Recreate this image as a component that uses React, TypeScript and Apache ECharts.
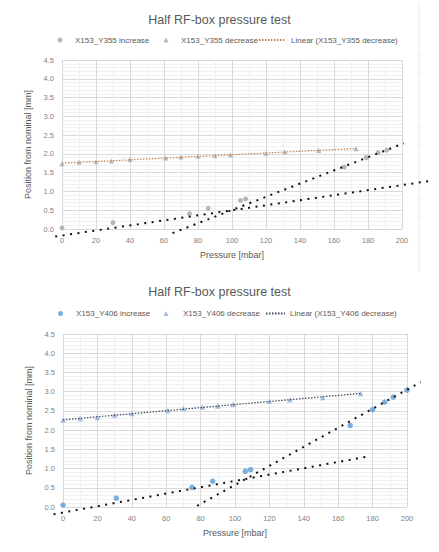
import React, { useEffect, useRef } from "react";
import * as echarts from "echarts";

// ---- Upper chart: X153_Y355 ----
const y355IncreasePressure = [0, 30, 75, 86, 105, 108, 166, 179, 186, 191];
const y355IncreaseValue = [0.03, 0.17, 0.41, 0.55, 0.76, 0.8, 1.65, 1.9, 2.03, 2.1];
const y355DecreasePressure = [0, 10, 20, 29, 40, 61, 70, 80, 90, 99, 120, 131, 151, 173];
const y355DecreaseValue = [1.74, 1.78, 1.79, 1.81, 1.85, 1.89, 1.92, 1.94, 1.95, 1.98, 2.02, 2.05, 2.09, 2.14];
// hand-drawn dotted guide lines (pressure, position), they run past the plot edges
const y355GuideShallow = [[-4, -0.2], [218, 1.29]];
const y355GuideSteep = [[65, -0.11], [201, 2.28]];

// ---- Lower chart: X153_Y406 ----
const y406IncreasePressure = [0, 31, 75, 87, 106, 109, 167, 180, 187, 192, 200];
const y406IncreaseValue = [0.05, 0.23, 0.51, 0.67, 0.93, 0.97, 2.12, 2.53, 2.73, 2.86, 3.04];
const y406DecreasePressure = [0, 10, 20, 30, 40, 61, 70, 81, 90, 99, 120, 132, 151, 173];
const y406DecreaseValue = [2.26, 2.3, 2.33, 2.39, 2.43, 2.51, 2.56, 2.6, 2.63, 2.67, 2.75, 2.79, 2.85, 2.95];
const y406GuideShallow = [[-5.5, -0.19], [178, 1.32]];
const y406GuideSteep = [[78, 0.03], [208, 3.25]];

const titleText = "Half RF-box pressure test";
const xName = "Pressure [mbar]";
const yName = "Position from nominal [mm]";

const FONT = "'Liberation Sans', Arial, sans-serif";

function zip(xs: number[], ys: number[]) {
  return xs.map((x, i) => [x, ys[i]]);
}

// least-squares trendline across the span of the measured pressures
function linearTrend(xs: number[], ys: number[]) {
  const n = xs.length;
  const mx = xs.reduce((a, b) => a + b, 0) / n;
  const my = ys.reduce((a, b) => a + b, 0) / n;
  let sxy = 0;
  let sxx = 0;
  for (let i = 0; i < n; i++) {
    sxy += (xs[i] - mx) * (ys[i] - my);
    sxx += (xs[i] - mx) * (xs[i] - mx);
  }
  const slope = sxy / sxx;
  const icpt = my - slope * mx;
  const x0 = Math.min(...xs);
  const x1 = Math.max(...xs);
  return [[x0, icpt + slope * x0], [x1, icpt + slope * x1]];
}

function xAxisFor(gridIndex: number) {
  return {
    type: "value",
    gridIndex,
    min: 0,
    max: 200,
    interval: 20,
    name: xName,
    nameLocation: "middle",
    nameGap: 21,
    nameTextStyle: { fontFamily: FONT, fontSize: 9, color: "#595959" },
    axisLine: { show: false },
    axisTick: { show: false },
    axisLabel: { fontFamily: FONT, fontSize: 7.5, color: "#7f7f7f", margin: 7 },
    splitLine: { show: true, lineStyle: { color: "#d9d9d9", width: 1 } },
    minorTick: { show: false, splitNumber: 2 },
    minorSplitLine: { show: true, lineStyle: { color: "#f0f0f0", width: 1 } },
  };
}

function yAxisFor(gridIndex: number) {
  return {
    type: "value",
    gridIndex,
    min: 0,
    max: 4.5,
    interval: 0.5,
    name: yName,
    nameLocation: "middle",
    nameGap: 17,
    nameTextStyle: { fontFamily: FONT, fontSize: 9, color: "#595959" },
    axisLine: { show: false },
    axisTick: { show: false },
    axisLabel: {
      fontFamily: FONT,
      fontSize: 7.5,
      color: "#7f7f7f",
      margin: 8,
      formatter: (v: number) => v.toFixed(1),
    },
    splitLine: { show: true, lineStyle: { color: "#d9d9d9", width: 1 } },
    minorTick: { show: false, splitNumber: 5 },
    minorSplitLine: { show: true, lineStyle: { color: "#f0f0f0", width: 1 } },
  };
}

// one legend per entry so each icon can have its own width
function legendItem(
  name: string,
  left: number,
  top: number,
  kind: "circle" | "triangle" | "line",
  padLeft: number,
  lineWidth = 27
) {
  const isLine = kind === "line";
  return {
    left,
    top,
    padding: 0,
    itemWidth: isLine ? lineWidth : 5,
    itemHeight: 5,
    data: [isLine ? { name, itemStyle: { opacity: 0 } } : { name, icon: kind }],
    textStyle: { fontFamily: FONT, fontSize: 8, color: "#595959", padding: [0, 0, 0, padLeft] },
  };
}

export default function App() {
  const ref = useRef<HTMLDivElement>(null);

  useEffect(() => {
    if (!ref.current) return;
    const chart = echarts.init(ref.current, undefined, { renderer: "svg" });

    const names355 = ["X153_Y355 increase", "X153_Y355 decrease", "Linear (X153_Y355 decrease)"];
    const names406 = ["X153_Y406 increase", "X153_Y406 decrease", "Linear (X153_Y406 decrease)"];

    chart.setOption({
      animation: false,
      backgroundColor: "#ffffff",
      title: [
        {
          text: titleText,
          left: "center",
          top: 8,
          textStyle: { fontFamily: FONT, fontSize: 12.5, fontWeight: "normal", color: "#595959" },
        },
        {
          text: titleText,
          left: "center",
          top: 280,
          textStyle: { fontFamily: FONT, fontSize: 12.5, fontWeight: "normal", color: "#595959" },
        },
      ],
      legend: [
        legendItem(names355[0], 57.5, 36, "circle", 7.5),
        legendItem(names355[1], 163.5, 36, "triangle", 7.5),
        legendItem(names355[2], 258, 36, "line", 0),
        legendItem(names406[0], 58, 309.5, "circle", 8),
        legendItem(names406[1], 163.5, 309.5, "triangle", 9.5),
        legendItem(names406[2], 265, 309.5, "line", 0, 19),
      ],
      grid: [
        { left: 62, right: 37, top: 60, height: 169, containLabel: false },
        { left: 63, right: 32, top: 334, height: 173, containLabel: false },
      ],
      xAxis: [xAxisFor(0), xAxisFor(1)],
      yAxis: [yAxisFor(0), yAxisFor(1)],
      series: [
        {
          name: names355[0],
          type: "scatter",
          xAxisIndex: 0,
          yAxisIndex: 0,
          symbol: "circle",
          symbolSize: 5,
          itemStyle: { color: "#a5a5a5" },
          data: zip(y355IncreasePressure, y355IncreaseValue),
        },
        {
          name: names355[1],
          type: "scatter",
          xAxisIndex: 0,
          yAxisIndex: 0,
          symbol: "triangle",
          symbolSize: 5,
          itemStyle: { color: "#a5a5a5" },
          data: zip(y355DecreasePressure, y355DecreaseValue),
        },
        {
          name: names355[2],
          type: "line",
          xAxisIndex: 0,
          yAxisIndex: 0,
          symbol: "none",
          z: 3,
          lineStyle: { color: "#c9814a", width: 1.2, type: [1.5, 1.5] },
          itemStyle: { color: "#c9814a" },
          data: linearTrend(y355DecreasePressure, y355DecreaseValue),
        },
        {
          name: names406[0],
          type: "scatter",
          xAxisIndex: 1,
          yAxisIndex: 1,
          symbol: "circle",
          symbolSize: 5.5,
          itemStyle: { color: "#5b9bd5" },
          data: zip(y406IncreasePressure, y406IncreaseValue),
        },
        {
          name: names406[1],
          type: "scatter",
          xAxisIndex: 1,
          yAxisIndex: 1,
          symbol: "triangle",
          symbolSize: 5.5,
          itemStyle: { color: "#8eaadb" },
          data: zip(y406DecreasePressure, y406DecreaseValue),
        },
        {
          name: names406[2],
          type: "line",
          xAxisIndex: 1,
          yAxisIndex: 1,
          symbol: "none",
          z: 3,
          lineStyle: { color: "#3f4a5a", width: 1.2, type: [1.5, 1.5] },
          itemStyle: { color: "#3f4a5a" },
          data: linearTrend(y406DecreasePressure, y406DecreaseValue),
        },
      ],
    });

    // guide lines extend beyond the axes, so they are placed through the grid's own scale
    const guides: [number, number[][]][] = [
      [0, y355GuideShallow],
      [0, y355GuideSteep],
      [1, y406GuideShallow],
      [1, y406GuideSteep],
    ];
    const guideEls = guides.map(([gridIndex, pts], i) => {
      const a = chart.convertToPixel({ gridIndex }, pts[0]) as number[];
      const b = chart.convertToPixel({ gridIndex }, pts[1]) as number[];
      return {
        type: "line",
        id: "guide" + i,
        z: 10,
        silent: true,
        shape: { x1: a[0], y1: a[1], x2: b[0], y2: b[1] },
        style: { stroke: "#111111", lineWidth: 2, lineDash: [2, 5.5], lineCap: "butt" },
      };
    });

    // faint border of a neighbouring panel at the right edge
    const edgeEls: any[] = [
      {
        type: "line",
        id: "edge",
        silent: true,
        shape: { x1: 419, y1: 3, x2: 419, y2: 272 },
        style: { stroke: "#ececec", lineWidth: 1 },
      },
    ];
    for (let y = 10, k = 0; y < 270; y += 9, k++) {
      edgeEls.push({
        type: "line",
        id: "edgeTick" + k,
        silent: true,
        shape: { x1: 419, y1: y, x2: 422, y2: y },
        style: { stroke: "#ececec", lineWidth: 1 },
      });
    }

    chart.setOption({ graphic: { elements: [...guideEls, ...edgeEls] } });

    return () => chart.dispose();
  }, []);

  return (
    <div
      ref={ref}
      style={{ position: "absolute", left: 0, top: 0, width: 439, height: 552, background: "#ffffff" }}
    />
  );
}
